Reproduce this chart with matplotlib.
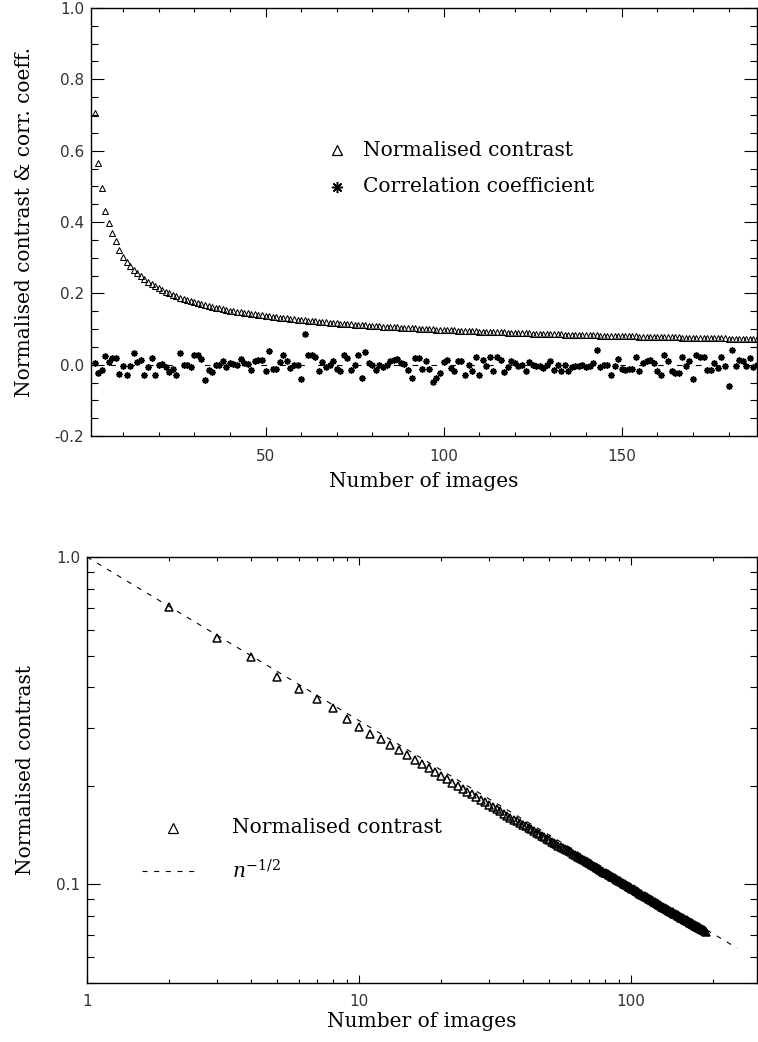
import matplotlib
matplotlib.use('Agg')
import matplotlib.pyplot as plt
from matplotlib.ticker import MultipleLocator, FixedLocator, LogLocator, NullFormatter, FixedFormatter

# number of images combined
n_images = list(range(2, 189))

# normalised contrast
contrast = [
    0.706, 0.566, 0.496, 0.430, 0.396, 0.369, 0.346, 0.321, 0.302, 0.289,
    0.2772, 0.2663, 0.2566, 0.2479, 0.2400, 0.2328, 0.2263, 0.2202, 0.2147, 0.2095,
    0.2047, 0.2002, 0.1959, 0.1920, 0.1883, 0.1848, 0.1814, 0.1783, 0.1753, 0.1724,
    0.1697, 0.1671, 0.1646, 0.1622, 0.1600, 0.1578, 0.1557, 0.1537, 0.1518, 0.1507,
    0.1489, 0.1472, 0.1455, 0.1439, 0.1422, 0.1408, 0.1392, 0.1379, 0.1365, 0.1351,
    0.1338, 0.1326, 0.1313, 0.1301, 0.1296, 0.1285, 0.1274, 0.1263, 0.1252, 0.1242,
    0.1232, 0.1222, 0.1213, 0.1203, 0.1194, 0.1185, 0.1177, 0.1168, 0.1159, 0.1151,
    0.1144, 0.1135, 0.1127, 0.1120, 0.1113, 0.1107, 0.1100, 0.1094, 0.1087, 0.1081,
    0.1075, 0.1069, 0.1063, 0.1057, 0.1051, 0.1045, 0.1039, 0.1034, 0.1028, 0.1022,
    0.1017, 0.1011, 0.1005, 0.1000, 0.0995, 0.0990, 0.0985, 0.0980, 0.0975, 0.0970,
    0.0965, 0.0960, 0.0956, 0.0952, 0.0947, 0.0943, 0.0938, 0.0934, 0.0929, 0.0925,
    0.0921, 0.0917, 0.0914, 0.0910, 0.0905, 0.0902, 0.0898, 0.0894, 0.0890, 0.0886,
    0.0883, 0.0880, 0.0876, 0.0872, 0.0870, 0.0866, 0.0863, 0.0859, 0.0856, 0.0854,
    0.0850, 0.0847, 0.0844, 0.0841, 0.0838, 0.0835, 0.0832, 0.0829, 0.0826, 0.0824,
    0.0821, 0.0818, 0.0815, 0.0812, 0.0810, 0.0808, 0.0805, 0.0802, 0.0799, 0.0797,
    0.0795, 0.0792, 0.0790, 0.0787, 0.0785, 0.0782, 0.0781, 0.0778, 0.0776, 0.0773,
    0.0771, 0.0768, 0.0767, 0.0764, 0.0762, 0.0760, 0.0758, 0.0755, 0.0753, 0.0752,
    0.0749, 0.0747, 0.0745, 0.0743, 0.0741, 0.0740, 0.0738, 0.0735, 0.0733, 0.0731,
    0.0729, 0.0727, 0.0726, 0.0724, 0.0722, 0.0720, 0.0718,
]

# correlation coefficient
corr = [
    0.005, -0.023, -0.014, 0.023, 0.007, 0.019, 0.019, -0.025, -0.003, -0.028,
    -0.005, 0.033, 0.007, 0.014, -0.028, -0.007, 0.019, -0.028, 0.000, 0.003,
    -0.007, -0.021, -0.011, -0.030, 0.033, 0.000, 0.000, -0.007, 0.026, 0.026,
    0.017, -0.042, -0.014, -0.021, -0.002, -0.002, 0.011, -0.007, 0.005, 0.002,
    0.000, 0.017, 0.005, 0.003, -0.014, 0.009, 0.012, 0.012, -0.019, 0.037,
    -0.011, -0.011, 0.007, 0.026, 0.011, -0.009, -0.002, -0.002, -0.039, 0.086,
    0.026, 0.026, 0.021, -0.017, 0.007, -0.007, 0.000, 0.011, -0.011, -0.019,
    0.028, 0.019, -0.014, -0.002, 0.026, -0.037, 0.035, 0.005, 0.000, -0.014,
    0.000, -0.007, 0.000, 0.011, 0.014, 0.017, 0.005, 0.003, -0.016, -0.037,
    0.019, 0.019, -0.011, 0.011, -0.011, -0.049, -0.037, -0.023, 0.007, 0.014,
    -0.009, -0.017, 0.011, 0.011, -0.030, 0.000, -0.017, 0.021, -0.030, 0.012,
    -0.005, 0.021, -0.019, 0.021, 0.014, -0.021, -0.007, 0.011, 0.005, -0.005,
    0.000, -0.017, 0.007, -0.002, -0.005, -0.003, -0.009, 0.000, 0.011, -0.014,
    0.000, -0.019, 0.000, -0.017, -0.007, -0.005, -0.005, 0.000, -0.007, -0.005,
    0.005, 0.040, -0.007, 0.000, 0.000, -0.028, -0.005, 0.017, -0.011, -0.014,
    -0.011, -0.011, 0.021, -0.017, 0.005, 0.011, 0.014, 0.005, -0.017, -0.028,
    0.028, 0.009, -0.017, -0.023, -0.023, 0.021, -0.005, 0.011, -0.039, 0.026,
    0.021, 0.021, -0.014, -0.014, 0.005, -0.009, 0.021, -0.005, -0.061, 0.042,
    -0.005, 0.014, 0.009, -0.005, 0.019, -0.007, 0.000,
]

# n^-1/2 reference line end points
model_n = [1, 245]
model_c = [1.0, 0.0639]

plt.rcParams['font.family'] = ['DejaVu Sans']
plt.rcParams['mathtext.fontset'] = 'dejavuserif'
serif = 'DejaVu Serif'
lab_size = 14.5
tick_col = '#333333'

fig = plt.figure(figsize=(7.58, 10.42), dpi=100)

# ---------- top panel ----------
ax1 = fig.add_axes([91/758, 1-436/1042, 666/758, 428/1042])
ax1.axhline(0, color='k', lw=0.8, ls=(0, (5, 12)))
ax1.plot(n_images, contrast, ls='none', marker='^', ms=3.8, mfc='none', mec='k', mew=0.75)
ax1.plot(n_images, corr, ls='none', marker=(8, 2, 0), ms=4.6, mec='k', mew=1.1)
ax1.set_xlim(1, 188)
ax1.set_ylim(-0.2, 1.0)
ax1.xaxis.set_major_locator(FixedLocator([50, 100, 150]))
ax1.xaxis.set_minor_locator(MultipleLocator(10))
ax1.yaxis.set_major_locator(FixedLocator([-0.2, 0.0, 0.2, 0.4, 0.6, 0.8, 1.0]))
ax1.yaxis.set_major_formatter(FixedFormatter(['-0.2', '0.0', '0.2', '0.4', '0.6', '0.8', '1.0']))
ax1.yaxis.set_minor_locator(MultipleLocator(0.05))
ax1.tick_params(which='both', direction='in', top=True, right=True, width=0.8,
                labelsize=11, labelcolor=tick_col)
ax1.tick_params(axis='y', which='major', length=9.6, pad=5)
ax1.tick_params(axis='y', which='minor', length=4.8)
ax1.tick_params(axis='x', which='major', length=6.2, pad=9)
ax1.tick_params(axis='x', which='minor', length=3.1)
for s in ax1.spines.values():
    s.set_linewidth(1.0)
ax1.set_xlabel('Number of images', family=serif, fontsize=lab_size)
ax1.xaxis.set_label_coords(0.5, -0.084)
ax1.set_ylabel('Normalised contrast & corr. coeff.', family=serif, fontsize=lab_size)
ax1.yaxis.set_label_coords(-0.086, 0.5)

# legend drawn by hand
ax1.plot([0.369], [0.668], transform=ax1.transAxes, marker='^', ms=7, mfc='none', mec='k', mew=0.9)
ax1.plot([0.369], [0.582], transform=ax1.transAxes, marker=(8, 2, 0), ms=8, mec='k', mew=1.1)
ax1.text(0.408, 0.668, 'Normalised contrast', transform=ax1.transAxes, va='center',
         family=serif, fontsize=lab_size)
ax1.text(0.408, 0.582, 'Correlation coefficient', transform=ax1.transAxes, va='center',
         family=serif, fontsize=lab_size)

# ---------- bottom panel ----------
ax2 = fig.add_axes([87/758, 1-983/1042, 670/758, 426/1042])
ax2.set_xscale('log')
ax2.set_yscale('log')
ax2.plot(model_n, model_c, color='k', lw=0.8, ls=(0, (4.5, 6)))
ax2.plot(n_images, contrast, ls='none', marker='^', ms=5.4, mfc='none', mec='k', mew=1.1)
ax2.set_xlim(1, 290)
ax2.set_ylim(0.05, 1.0)
ax2.xaxis.set_major_locator(FixedLocator([1, 10, 100]))
ax2.xaxis.set_major_formatter(FixedFormatter(['1', '10', '100']))
ax2.xaxis.set_minor_locator(LogLocator(base=10, subs=range(2, 10)))
ax2.xaxis.set_minor_formatter(NullFormatter())
ax2.yaxis.set_major_locator(FixedLocator([0.1, 1.0]))
ax2.yaxis.set_major_formatter(FixedFormatter(['0.1', '1.0']))
ax2.yaxis.set_minor_locator(LogLocator(base=10, subs=range(2, 10)))
ax2.yaxis.set_minor_formatter(NullFormatter())
ax2.tick_params(which='both', direction='in', top=True, right=True, width=0.8,
                labelsize=11, labelcolor=tick_col)
ax2.tick_params(axis='y', which='major', length=9.6, pad=5)
ax2.tick_params(axis='y', which='minor', length=4.8)
ax2.tick_params(axis='x', which='major', length=6.1, pad=8)
ax2.tick_params(axis='x', which='minor', length=2.9)
for s in ax2.spines.values():
    s.set_linewidth(1.0)
ax2.set_xlabel('Number of images', family=serif, fontsize=lab_size)
ax2.xaxis.set_label_coords(0.5, -0.068)
ax2.set_ylabel('Normalised contrast', family=serif, fontsize=lab_size)
ax2.yaxis.set_label_coords(-0.077, 0.5)

ax2.plot([0.128], [0.364], transform=ax2.transAxes, marker='^', ms=7, mfc='none', mec='k', mew=0.9)
ax2.text(0.216, 0.364, 'Normalised contrast', transform=ax2.transAxes, va='center',
         family=serif, fontsize=lab_size)
ax2.plot([0.082, 0.169], [0.263, 0.263], transform=ax2.transAxes, color='k', lw=0.8,
         ls=(0, (4.5, 6)))
ax2.text(0.216, 0.263, r'$n^{-1/2}$', transform=ax2.transAxes, va='center', fontsize=lab_size)

fig.savefig('out.png', dpi=100)
